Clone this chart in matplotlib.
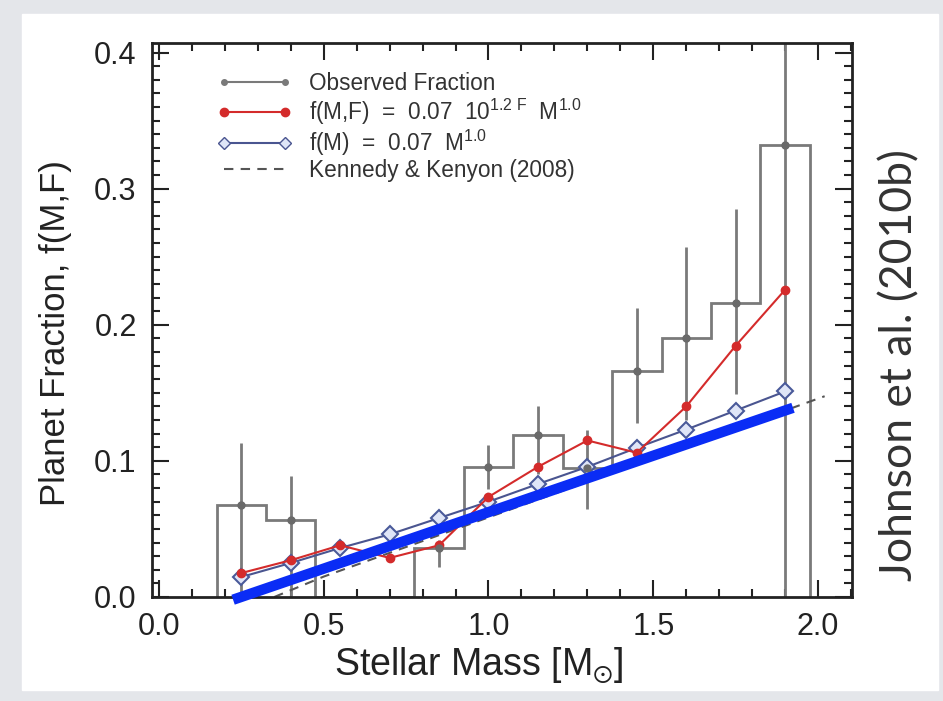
import matplotlib
matplotlib.use('Agg')
import matplotlib.pyplot as plt
from matplotlib.lines import Line2D
from matplotlib.patches import Rectangle
from matplotlib.ticker import MultipleLocator
import numpy as np

plt.rcParams['font.family'] = ['Liberation Sans', 'DejaVu Sans']
plt.rcParams['mathtext.fontset'] = 'custom'
plt.rcParams['mathtext.rm'] = 'Liberation Sans'
plt.rcParams['mathtext.it'] = 'Liberation Sans:italic'
plt.rcParams['mathtext.default'] = 'regular'

# donnees (Johnson et al. 2010b)
mass = [0.25, 0.40, 0.55, 0.70, 0.85, 1.00, 1.15, 1.30, 1.45, 1.60, 1.75, 1.90]
bin_edges = [0.175, 0.325, 0.475, 0.625, 0.775, 0.925, 1.075, 1.225, 1.375,
             1.525, 1.675, 1.825, 1.975]
obs_frac = [0.0676, 0.0566, 0.0, 0.0, 0.036, 0.0956, 0.119, 0.095, 0.166, 0.190, 0.216, 0.332]
obs_lo = [0.0, 0.0, 0.0, 0.0, 0.022, 0.079, 0.090, 0.065, 0.128, 0.130, 0.149, 0.0]
obs_hi = [0.113, 0.089, 0.0, 0.0, 0.042, 0.112, 0.140, 0.123, 0.2125, 0.257, 0.285, 0.45]
red_frac = [0.0176, 0.027, 0.038, 0.0287, 0.038, 0.0735, 0.0956, 0.115, 0.106, 0.140, 0.1846, 0.2257]
blue_frac = [0.0147, 0.025, 0.036, 0.046, 0.058, 0.070, 0.083, 0.0956, 0.1096, 0.123, 0.137, 0.151]
kk_mass = [0.35, 0.5, 1.0, 1.5, 2.02]
kk_frac = [0.0, 0.015, 0.0585, 0.102, 0.1475]
fit_mass = [0.225, 1.924]   # trait bleu epais ajoute sur la diapo
fit_frac = [-0.002, 0.139]

fig = plt.figure(figsize=(9.43, 7.01), dpi=100)
fig.patch.set_facecolor('#e4e6ea')
fig.patches.append(Rectangle((22 / 943, 11 / 701), (938 - 22) / 943, (687 - 11) / 701,
                             transform=fig.transFigure, color='white', zorder=-10))

ax = fig.add_axes([152 / 943, 1 - 597 / 701, 700 / 943, 554 / 701])

gray = '#7a7a7a'
ax.stairs(obs_frac, bin_edges, color=gray, lw=2, baseline=0)

m = np.array(mass)
o = np.array(obs_frac)
keep = o > 0
yerr = [o[keep] - np.array(obs_lo)[keep], np.array(obs_hi)[keep] - o[keep]]
ax.errorbar(m[keep], o[keep], yerr=yerr, fmt='o', color='#6a6a6a', ecolor=gray,
            ms=5, elinewidth=2, capsize=0)

ax.plot(kk_mass, kk_frac, ls=(0, (4.5, 3.5)), color='#555555', lw=1.5)
ax.plot(mass, blue_frac, '-D', color='#4a5590', mfc='#dfe5f7', mec='#4a5a9a',
        mew=1.5, ms=8, lw=1.5)
ax.plot(mass, red_frac, '-o', color='#d42b2b', ms=6, lw=1.5)

ax.plot(fit_mass, fit_frac, color='#0a2cf5', lw=7.5, solid_capstyle='butt',
        clip_on=False, zorder=10)

ax.set_xlim(-0.021, 2.103)
ax.set_ylim(0, 0.407)
ax.xaxis.set_major_locator(MultipleLocator(0.5))
ax.xaxis.set_minor_locator(MultipleLocator(0.1))
ax.yaxis.set_major_locator(MultipleLocator(0.1))
ax.yaxis.set_minor_locator(MultipleLocator(0.01))
ax.xaxis.set_major_formatter(lambda v, p: f'{v:.1f}')
ax.yaxis.set_major_formatter(lambda v, p: f'{v:.1f}')
ax.tick_params(which='both', direction='in', top=True, right=True, width=1.5,
               colors='#222222', labelsize=22)
ax.tick_params(which='major', length=12, pad=11)
ax.tick_params(which='minor', length=6)
for s in ax.spines.values():
    s.set_linewidth(2)
    s.set_color('#222222')

ax.set_xlabel(r'Stellar Mass [M$_{\odot}$]', fontsize=27, color='#222222')
ax.set_ylabel('Planet Fraction, f(M,F)', fontsize=25, color='#222222')
ax.xaxis.set_label_coords(0.467, -0.088)
ax.yaxis.set_label_coords(-0.114, 0.477)

handles = [
    Line2D([], [], color=gray, lw=1.5, marker='o', ms=4),
    Line2D([], [], color='#d42b2b', lw=1.5, marker='o', ms=6),
    Line2D([], [], color='#4a5590', lw=1.5, marker='D', ms=6, mfc='#dfe5f7'),
    Line2D([], [], color='#555555', lw=1.5, ls=(0, (4.5, 3.5))),
]
labels = ['Observed Fraction',
          r'f(M,F)  =  0.07  10$^{1.2\ F}$  M$^{1.0}$',
          r'f(M)  =  0.07  M$^{1.0}$',
          'Kennedy & Kenyon (2008)']
ax.legend(handles, labels, loc='upper left', bbox_to_anchor=(0.093, 0.947),
          frameon=False, fontsize=16.3, numpoints=2, handlelength=3.3,
          handletextpad=0.75, labelspacing=0.05, borderpad=0, borderaxespad=0,
          labelcolor='#333333')

fig.text(900 / 943, 1 - 365 / 701, 'Johnson et al. (2010b)', rotation=90,
         ha='center', va='center', fontsize=32, family='Lato', color='#333333')

fig.savefig('out.png', dpi=100, facecolor=fig.get_facecolor())
